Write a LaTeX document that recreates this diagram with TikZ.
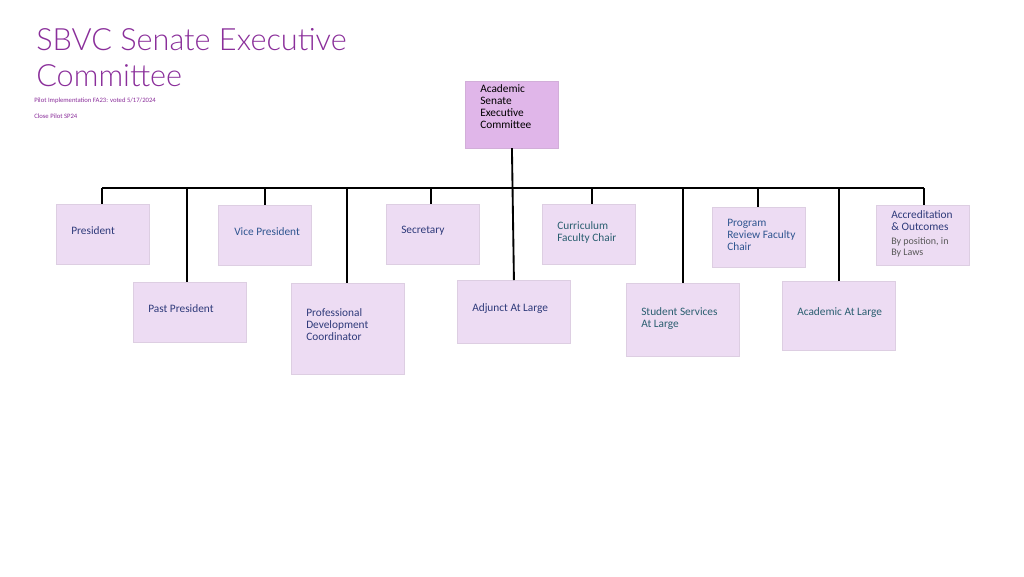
\documentclass[tikz,border=0pt]{standalone}
\usepackage{fontspec}
\setmainfont{Carlito}
\newfontfamily\titlefont{Lato Light}
\usetikzlibrary{positioning}
\definecolor{topfill}{HTML}{E0B6E9}
\definecolor{boxfill}{HTML}{EDDCF3}
\definecolor{titlecol}{HTML}{8A2E9A}
\definecolor{navy}{HTML}{2E3A7A}
\definecolor{steel}{HTML}{2F5590}
\definecolor{teal}{HTML}{2A5E70}
\tikzset{
  orgbox/.style={draw=boxfill!85!gray, fill=boxfill, anchor=north west, inner sep=0pt},
  boxtext/.style={anchor=north west, inner sep=0pt, align=left, font=\fontsize{8.5}{9}\selectfont},
  link/.style={line width=1.4pt, black},
}
\begin{document}
\begin{tikzpicture}[x=0.75pt,y=-0.75pt]
	\useasboundingbox (0,0) rectangle (1024,576);
	% Title
	\node [anchor=north west, inner sep=0pt, align=left, text=titlecol, font=\titlefont\fontsize{23}{27}\selectfont] (title) at (36,28) {SBVC Senate Executive\\Committee};
	\node [anchor=north west, inner sep=0pt, text=titlecol, font=\fontsize{5}{6}\selectfont] (pilot) at (34,98) {Pilot Implementation FA23: voted 5/17/2024};
	\node [anchor=north west, inner sep=0pt, text=titlecol, font=\fontsize{5}{6}\selectfont] (close) at (34,114) {Close Pilot SP24};
	% Top box
	\node [orgbox, fill=topfill, draw=topfill!85!gray, minimum width=70pt, minimum height=50pt] (aseb) at (465,81) {};
	\node [boxtext, text=black] (asebt) at (480,84) {Academic\\Senate\\Executive\\Committee};
	% Upper row
	\node [orgbox, minimum width=70pt, minimum height=45pt] (pres) at (56,204) {};
	\node [boxtext, text=navy] at (71,226) {President};
	\node [orgbox, minimum width=70pt, minimum height=45pt] (vp) at (218,205) {};
	\node [boxtext, text=steel] at (234,227) {Vice President};
	\node [orgbox, minimum width=70pt, minimum height=45pt] (sec) at (386,204) {};
	\node [boxtext, text=navy] at (401,226) {Secretary};
	\node [orgbox, minimum width=70pt, minimum height=45pt] (curr) at (542,204) {};
	\node [boxtext, text=teal] at (557,221) {Curriculum\\Faculty Chair};
	\node [orgbox, minimum width=70pt, minimum height=45pt] (prog) at (712,207) {};
	\node [boxtext, text=steel] at (727,219) {Program\\Review Faculty\\Chair};
	\node [orgbox, minimum width=70pt, minimum height=45pt] (accr) at (876,205) {};
	\node [boxtext, text=navy] (accrt) at (891,210) {Accreditation\\\& Outcomes};
	\node [boxtext, text=black!65, font=\fontsize{7.5}{8.5}\selectfont] (accrn) at (891,237) {By position, in\\By Laws};
	% Lower row
	\node [orgbox, minimum width=85pt, minimum height=45pt] (past) at (133,282) {};
	\node [boxtext, text=navy] at (148,304) {Past President};
	\node [orgbox, minimum width=85pt, minimum height=68pt] (pdc) at (291,283) {};
	\node [boxtext, text=navy] at (306,308) {Professional\\Development\\Coordinator};
	\node [orgbox, minimum width=85pt, minimum height=47pt] (adj) at (457,280) {};
	\node [boxtext, text=navy] at (472,303) {Adjunct At Large};
	\node [orgbox, minimum width=85pt, minimum height=55pt] (stu) at (626,283) {};
	\node [boxtext, text=teal] at (641,307) {Student Services\\At Large};
	\node [orgbox, minimum width=85pt, minimum height=52pt] (acad) at (782,281) {};
	\node [boxtext, text=teal] at (797,307) {Academic At Large};
	% Connectors
	\coordinate (busL) at (102,188);
	\coordinate (busR) at (924,188);
	\draw [link] (busL) -- (busR);
	\draw [link] (aseb.south) -- (adj.north);
	\foreach \b/\x in {pres/102, vp/265, sec/431, curr/592, prog/758, accr/924, past/187, pdc/347, stu/683, acad/839}
		\draw [link] (\x,188) -- (\x,188 |- \b.north);
\end{tikzpicture}
\end{document}
